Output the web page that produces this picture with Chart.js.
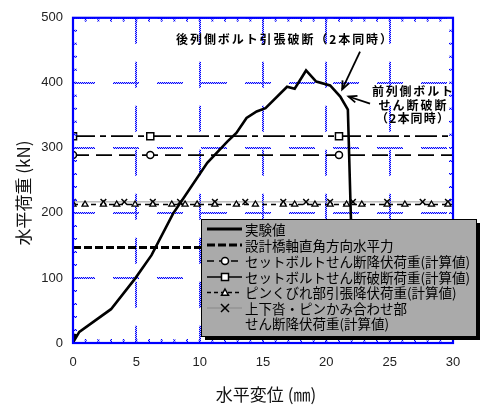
<!DOCTYPE html>
<html><head><meta charset="utf-8">
<script src="https://cdn.jsdelivr.net/npm/chart.js@4/dist/chart.umd.min.js"></script>
<style>html,body{margin:0;padding:0;background:#fff}</style>
</head><body>
<canvas id="c" width="488" height="408" style="width:488px;height:408px;display:block"></canvas>
<script>
// ---- data ----
const expX = [0.0, 0.2, 0.1, 0.5, 3.0, 4.9, 6.2, 7.9, 8.6, 10.6, 12.2, 12.9, 13.7, 14.5, 15.2, 16.9, 17.5, 18.4, 19.2, 20.3, 21.1, 21.7, 21.9, 22.0];
const expY = [0, 14, 4, 17, 52, 99, 135, 199, 219, 277, 310, 323, 346, 356, 361, 394, 391, 419, 402, 396, 379, 359, 220, 150];
const designLoad = 147;
const designX = [0, 30];
const boltYieldLoad = 289;
const boltYieldX = [0, 6.1, 21.0, 30];
const boltBreakLoad = 318;
const boltBreakX = [0, 6.1, 21.0, 30];
const pinNeckLoad = 213;
const pinNeckX = [0, 0.95, 2.4, 3.45, 4.9, 6.3, 7.8, 8.85, 9.8, 11.2, 12.9, 14.4, 16.6, 17.5, 19.1, 20.3, 21.6, 22.8, 24.8, 26.2, 28.3, 29.6, 30];
const shoeShearLoad = 217;
const shoeShearX = [0, 2.4, 4.05, 6.3, 8.45, 11.2, 13.6, 16.6, 18.4, 20.3, 22.1, 24.8, 27.6, 29.6, 30];
const xTicks = [0, 5, 10, 15, 20, 25, 30];
const yTicks = [0, 100, 200, 300, 400, 500];
const legendLabels = ['実験値', '設計橋軸直角方向水平力', 'セットボルトせん断降伏荷重(計算値)', 'セットボルトせん断破断荷重(計算値)', 'ピンくびれ部引張降伏荷重(計算値)', '上下沓・ピンかみ合わせ部', 'せん断降伏荷重(計算値)'];
const annoTop = '後列側ボルト引張破断（2本同時）';
const annoRight = ['前列側ボルト', 'せん断破断', '（2本同時）'];
const xTitle = '水平変位 (㎜)';
const yTitle = '水平荷重 (kN)';

const JP = '"Noto Sans CJK JP", "Noto Sans", sans-serif';
const pts = (xs, ys) => xs.map((x, i) => ({x, y: Array.isArray(ys) ? ys[i] : ys}));
const edgeless = r => (c) => (c.raw && c.raw.x === 30) ? 0 : r;

// dotted blue texture for the grid lines
const pc = document.createElement('canvas'); pc.width = 2; pc.height = 2;
const pctx = pc.getContext('2d');
pctx.fillStyle = '#0000ff'; pctx.fillRect(0, 0, 1, 1); pctx.fillRect(1, 1, 1, 1);
pctx.fillStyle = 'rgba(80,80,255,0.35)'; pctx.fillRect(1, 0, 1, 1); pctx.fillRect(0, 1, 1, 1);
const dotPattern = document.getElementById('c').getContext('2d').createPattern(pc, 'repeat');

function drawMarker(ctx, style, x, y, r) {
  ctx.save();
  ctx.fillStyle = '#fff'; ctx.strokeStyle = '#000'; ctx.lineWidth = 1.5; ctx.setLineDash([]);
  ctx.beginPath();
  if (style === 'circle') { ctx.arc(x, y, r, 0, Math.PI * 2); ctx.fill(); ctx.stroke(); }
  else if (style === 'rect') { ctx.rect(x - r, y - r, 2 * r, 2 * r); ctx.fill(); ctx.stroke(); }
  else if (style === 'triangle') { ctx.moveTo(x, y - r); ctx.lineTo(x + r, y + r * 0.8); ctx.lineTo(x - r, y + r * 0.8); ctx.closePath(); ctx.fill(); ctx.stroke(); }
  else if (style === 'crossRot') { ctx.moveTo(x - r, y - r); ctx.lineTo(x + r, y + r); ctx.moveTo(x + r, y - r); ctx.lineTo(x - r, y + r); ctx.stroke(); }
  ctx.restore();
}

function spacedText(ctx, text, cx, cy, target) {
  const chars = [...text];
  const ws = chars.map(ch => ctx.measureText(ch).width);
  const tw = ws.reduce((a, b) => a + b, 0);
  const sp = chars.length > 1 ? Math.max(0, (target - tw) / (chars.length - 1)) : 0;
  let x = cx - (tw + sp * (chars.length - 1)) / 2;
  ctx.textAlign = 'left';
  chars.forEach((ch, i) => { ctx.fillText(ch, x, cy); x += ws[i] + sp; });
}

function drawArrow(ctx, x1, y1, x2, y2) {
  ctx.save();
  ctx.strokeStyle = '#000'; ctx.fillStyle = '#000'; ctx.lineWidth = 1.8; ctx.setLineDash([]);
  ctx.beginPath(); ctx.moveTo(x1, y1); ctx.lineTo(x2, y2); ctx.stroke();
  const a = Math.atan2(y2 - y1, x2 - x1), L = 9, w = 0.4;
  ctx.beginPath();
  ctx.moveTo(x2 - L * Math.cos(a - w), y2 - L * Math.sin(a - w));
  ctx.lineTo(x2, y2);
  ctx.lineTo(x2 - L * Math.cos(a + w), y2 - L * Math.sin(a + w));
  ctx.stroke();
  ctx.restore();
}

const decor = {
  id: 'decor',
  afterDatasetsDraw(chart) {
    const {ctx, chartArea: a, scales: {x, y}} = chart;
    ctx.save();
    ctx.strokeStyle = dotPattern; ctx.lineWidth = 2; ctx.setLineDash([]);
    ctx.beginPath();
    for (let v = 1; v < 30; v++) {
      const px = x.getPixelForValue(v), L = 4;
      ctx.moveTo(px, a.bottom); ctx.lineTo(px, a.bottom - L);
      ctx.moveTo(px, a.top); ctx.lineTo(px, a.top + L);
    }
    for (let v = 20; v < 500; v += 20) {
      const py = y.getPixelForValue(v), L = 4;
      ctx.moveTo(a.left, py); ctx.lineTo(a.left + L, py);
      ctx.moveTo(a.right, py); ctx.lineTo(a.right - L, py);
    }
    ctx.stroke();
    ctx.strokeStyle = '#0000ff'; ctx.lineWidth = 2.2;
    ctx.strokeRect(a.left, a.top, a.right - a.left, a.bottom - a.top);
    ctx.restore();
  },
  afterDraw(chart) {
    const {ctx, chartArea: a, scales: {x, y}} = chart;
    ctx.save();
    // axis titles
    ctx.fillStyle = '#111';
    ctx.font = '17px ' + JP;
    ctx.textAlign = 'center'; ctx.textBaseline = 'middle';
    ctx.fillText(xTitle, (a.left + a.right) / 2 + 3, 395);
    ctx.save(); ctx.translate(24, 193); ctx.rotate(-Math.PI / 2); ctx.fillText(yTitle, 0, 0); ctx.restore();

    // annotations
    ctx.fillStyle = '#000';
    ctx.font = 'bold 12px ' + JP;
    ctx.textBaseline = 'middle';
    spacedText(ctx, annoTop, x.getPixelForValue(16.66), y.getPixelForValue(466), 216);
    const rl = [[387, 81], [365.5, 68], [345.6, 73]];
    annoRight.forEach((t, i) => spacedText(ctx, t, x.getPixelForValue(26.8), y.getPixelForValue(rl[i][0]), rl[i][1]));
    drawArrow(ctx, x.getPixelForValue(22.66), y.getPixelForValue(448), x.getPixelForValue(21.25), y.getPixelForValue(390));
    drawArrow(ctx, x.getPixelForValue(23.45), y.getPixelForValue(368), x.getPixelForValue(21.75), y.getPixelForValue(379));

    // legend box
    const L = 201, T = 219, R = 476, B = 336;
    ctx.fillStyle = '#000';
    ctx.fillRect(L + 4, T + 4, R - L, B - T);
    ctx.fillStyle = '#aaaaaa';
    ctx.fillRect(L, T, R - L, B - T);
    ctx.strokeStyle = '#000'; ctx.lineWidth = 1; ctx.setLineDash([]);
    ctx.strokeRect(L + 0.5, T + 0.5, R - L, B - T);
    const rows = [229, 245, 261, 277, 292.5, 308, 323];
    const x0 = 207, x1 = 242, mx = 225;
    const line = (yy, w, dash, col) => {
      ctx.save(); ctx.strokeStyle = col || '#000'; ctx.lineWidth = w; ctx.setLineDash(dash);
      ctx.beginPath(); ctx.moveTo(x0, yy); ctx.lineTo(x1, yy); ctx.stroke(); ctx.restore();
    };
    line(rows[0], 2.8, []);
    line(rows[1], 3, [8, 3]);
    line(rows[2], 1.5, [7, 5]); drawMarker(ctx, 'circle', mx, rows[2], 3.5);
    line(rows[3], 1.5, []); drawMarker(ctx, 'rect', mx, rows[3], 3.5);
    line(rows[4], 1.5, [4, 3]); drawMarker(ctx, 'triangle', mx, rows[4], 3.5);
    line(rows[5], 1, [], '#888'); drawMarker(ctx, 'crossRot', mx, rows[5], 4);
    ctx.fillStyle = '#000';
    ctx.font = '13.5px ' + JP;
    ctx.textAlign = 'left'; ctx.textBaseline = 'middle';
    legendLabels.forEach((t, i) => ctx.fillText(t, 245, rows[i] + 0.5));
    ctx.restore();
  }
};

new Chart(document.getElementById('c'), {
  type: 'scatter',
  data: {
    datasets: [
      {label: legendLabels[0], data: pts(expX, expY), showLine: true, borderColor: '#000', borderWidth: 2.6, pointRadius: 0, tension: 0},
      {label: legendLabels[1], data: pts(designX, designLoad), showLine: true, borderColor: '#000', borderWidth: 3, borderDash: [8, 3], pointRadius: 0},
      {label: legendLabels[2], data: pts(boltYieldX, boltYieldLoad), showLine: true, borderColor: '#000', borderWidth: 1.8, borderDash: [16, 7],
        pointStyle: 'circle', pointRadius: edgeless(3.5), pointBackgroundColor: '#fff', pointBorderColor: '#000', pointBorderWidth: 1.5},
      {label: legendLabels[3], data: pts(boltBreakX, boltBreakLoad), showLine: true, borderColor: '#000', borderWidth: 1.8, borderDash: [22, 5, 6, 5],
        pointStyle: 'rect', pointRadius: edgeless(5), pointBackgroundColor: '#fff', pointBorderColor: '#000', pointBorderWidth: 1.5},
      {label: legendLabels[4], data: pts(pinNeckX, pinNeckLoad), showLine: true, borderColor: '#000', borderWidth: 1.5, borderDash: [5, 4],
        pointStyle: 'triangle', pointRadius: edgeless(3.5), pointBackgroundColor: '#fff', pointBorderColor: '#000', pointBorderWidth: 1.3},
      {label: legendLabels[5], data: pts(shoeShearX, shoeShearLoad), showLine: true, borderColor: '#999', borderWidth: 1,
        pointStyle: 'crossRot', pointRadius: edgeless(4), pointBorderColor: '#000', pointBorderWidth: 1.5}
    ]
  },
  options: {
    responsive: false, animation: false, devicePixelRatio: 1,
    layout: {padding: {top: 16, right: 35, left: 0, bottom: 0}},
    plugins: {legend: {display: false}, tooltip: {enabled: false}},
    scales: {
      x: {type: 'linear', min: 0, max: 30,
        afterBuildTicks: s => { s.ticks = xTicks.map(v => ({value: v})); },
        ticks: {padding: 12, font: {family: 'Liberation Sans', size: 13}, color: '#222', maxRotation: 0},
        grid: {color: () => dotPattern, lineWidth: 2, drawTicks: false},
        border: {display: false, dash: [26, 18], dashOffset: 0},
        afterFit: s => { s.height = 65; }},
      y: {type: 'linear', min: 0, max: 500,
        afterBuildTicks: s => { s.ticks = yTicks.map(v => ({value: v})); },
        ticks: {padding: 10, font: {family: 'Liberation Sans', size: 13}, color: '#222'},
        grid: {color: () => dotPattern, lineWidth: 2, drawTicks: false},
        border: {display: false, dash: [26, 18], dashOffset: 4},
        afterFit: s => { s.width = 73; }}
    }
  },
  plugins: [decor]
});
</script>
</body></html>
